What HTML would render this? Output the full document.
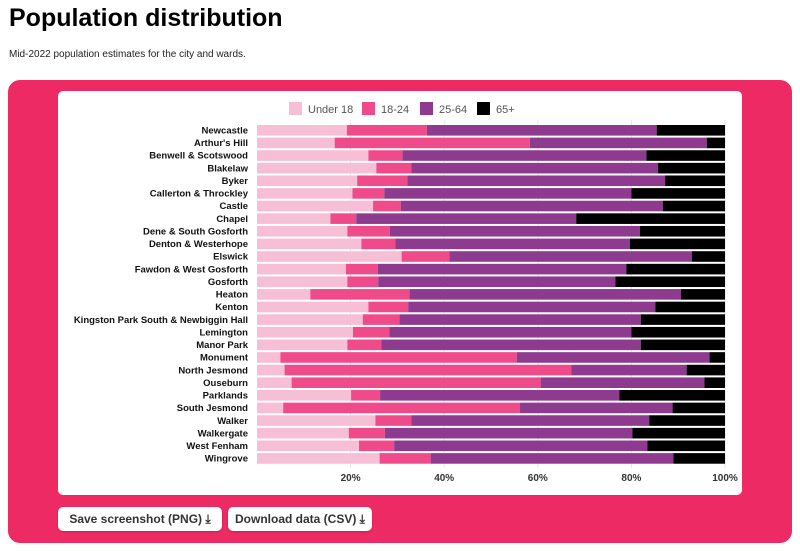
<!DOCTYPE html>
<html><head><meta charset="utf-8"><style>
body{margin:0;width:800px;height:551px;background:#fff;font-family:"Liberation Sans",sans-serif;position:relative;overflow:hidden}
h1{position:absolute;left:9px;top:4px;margin:0;font-size:25px;font-weight:bold;color:#000}
.sub{position:absolute;left:9px;top:49px;font-size:10px;color:#222}
.panel{position:absolute;left:8px;top:80px;width:784px;height:463px;background:#ee2a65;border-radius:12px}
.card{position:absolute;left:58px;top:91px;width:684px;height:404px;background:#fff;border-radius:5px}
.btn{position:absolute;top:507px;height:24px;background:#fff;border-radius:5px;font-size:12px;font-weight:bold;color:#333;line-height:24px;text-align:center;box-shadow:0 1px 2px rgba(0,0,0,.2)}
</style></head><body>
<h1>Population distribution</h1>
<div class="sub">Mid-2022 population estimates for the city and wards.</div>
<div class="panel"></div>
<div class="card"></div>
<svg id="chart" width="800" height="551" style="position:absolute;left:0;top:0"></svg>
<div class="btn" style="left:58px;width:164px">Save screenshot (PNG) ⤓</div>
<div class="btn" style="left:228px;width:144px">Download data (CSV) ⤓</div>
<script>
const categories=["Newcastle","Arthur's Hill","Benwell & Scotswood","Blakelaw","Byker","Callerton & Throckley","Castle","Chapel","Dene & South Gosforth","Denton & Westerhope","Elswick","Fawdon & West Gosforth","Gosforth","Heaton","Kenton","Kingston Park South & Newbiggin Hall","Lemington","Manor Park","Monument","North Jesmond","Ouseburn","Parklands","South Jesmond","Walker","Walkergate","West Fenham","Wingrove"];
const under18=[19.2,16.6,23.8,25.5,21.4,20.4,24.8,15.7,19.3,22.3,30.9,19.0,19.3,11.4,23.8,22.6,20.5,19.3,5.0,5.9,7.4,20.1,5.6,25.3,19.6,21.8,26.2];
const age18to24=[17.1,41.7,7.3,7.5,10.7,6.8,5.9,5.5,9.1,7.3,10.2,6.8,6.6,21.2,8.5,7.8,7.8,7.3,50.5,61.3,53.2,6.2,50.6,7.7,7.7,7.5,10.9];
const age25to64=[49.1,37.8,52.1,52.7,55.1,52.8,56.0,47.0,53.4,50.1,51.8,53.1,50.7,58.0,52.8,51.6,51.7,55.4,41.2,24.6,35.0,51.1,32.6,50.8,52.9,54.1,51.9];
const age65plus=[14.6,3.9,16.8,14.3,12.8,20.0,13.3,31.8,18.2,20.3,7.1,21.1,23.4,9.4,14.9,18.0,20.0,18.0,3.3,8.2,4.4,22.6,11.2,16.2,19.8,16.6,11.0];
const seriesNames=["Under 18","18-24","25-64","65+"];
const tickVals=[20,40,60,80,100];
const tickLabels=["20%","40%","60%","80%","100%"];
const colors=["#f7bfd6","#ef4b8a","#8e3b8f","#000"];
const NS="http://www.w3.org/2000/svg",svg=document.getElementById('chart');
const x=v=>257+v*4.68, y=i=>125+i*12.62;
function mk(t,a){const e=document.createElementNS(NS,t);for(const k in a)e.setAttribute(k,a[k]);svg.appendChild(e);return e;}
tickVals.forEach((t,i)=>{
 const l=mk('line',{x1:x(t),x2:x(t),y1:120,y2:468,stroke:'#e6e6e6'});
 
 
 const tx=mk('text',{x:x(t),y:481,'text-anchor':'middle','font-size':10,'font-weight':'bold',fill:'#333'});tx.textContent=tickLabels[i];
 
 
});
const all=[under18,age18to24,age25to64,age65plus];
categories.forEach((c,i)=>{
 let cum=0;
 all.forEach((s,j)=>{
  const r=mk('rect',{x:x(cum),y:y(i),width:x(cum+s[i])-x(cum),height:10.6,fill:colors[j]});
  
  
  cum+=s[i];
 });
 const t=mk('text',{x:248,y:y(i)+8.5,'text-anchor':'end','font-size':9.5,'font-weight':'bold',fill:'#111'});t.textContent=c;
 
 
});
const lx=[289,362,420,477];
seriesNames.forEach((n,j)=>{
 const r=mk('rect',{x:lx[j],y:102,width:13,height:13,fill:colors[j]});
 
 
 const t=mk('text',{x:lx[j]+19,y:113,'font-size':11,fill:'#555'});t.textContent=n;
 
 
});
</script>
</body></html>
